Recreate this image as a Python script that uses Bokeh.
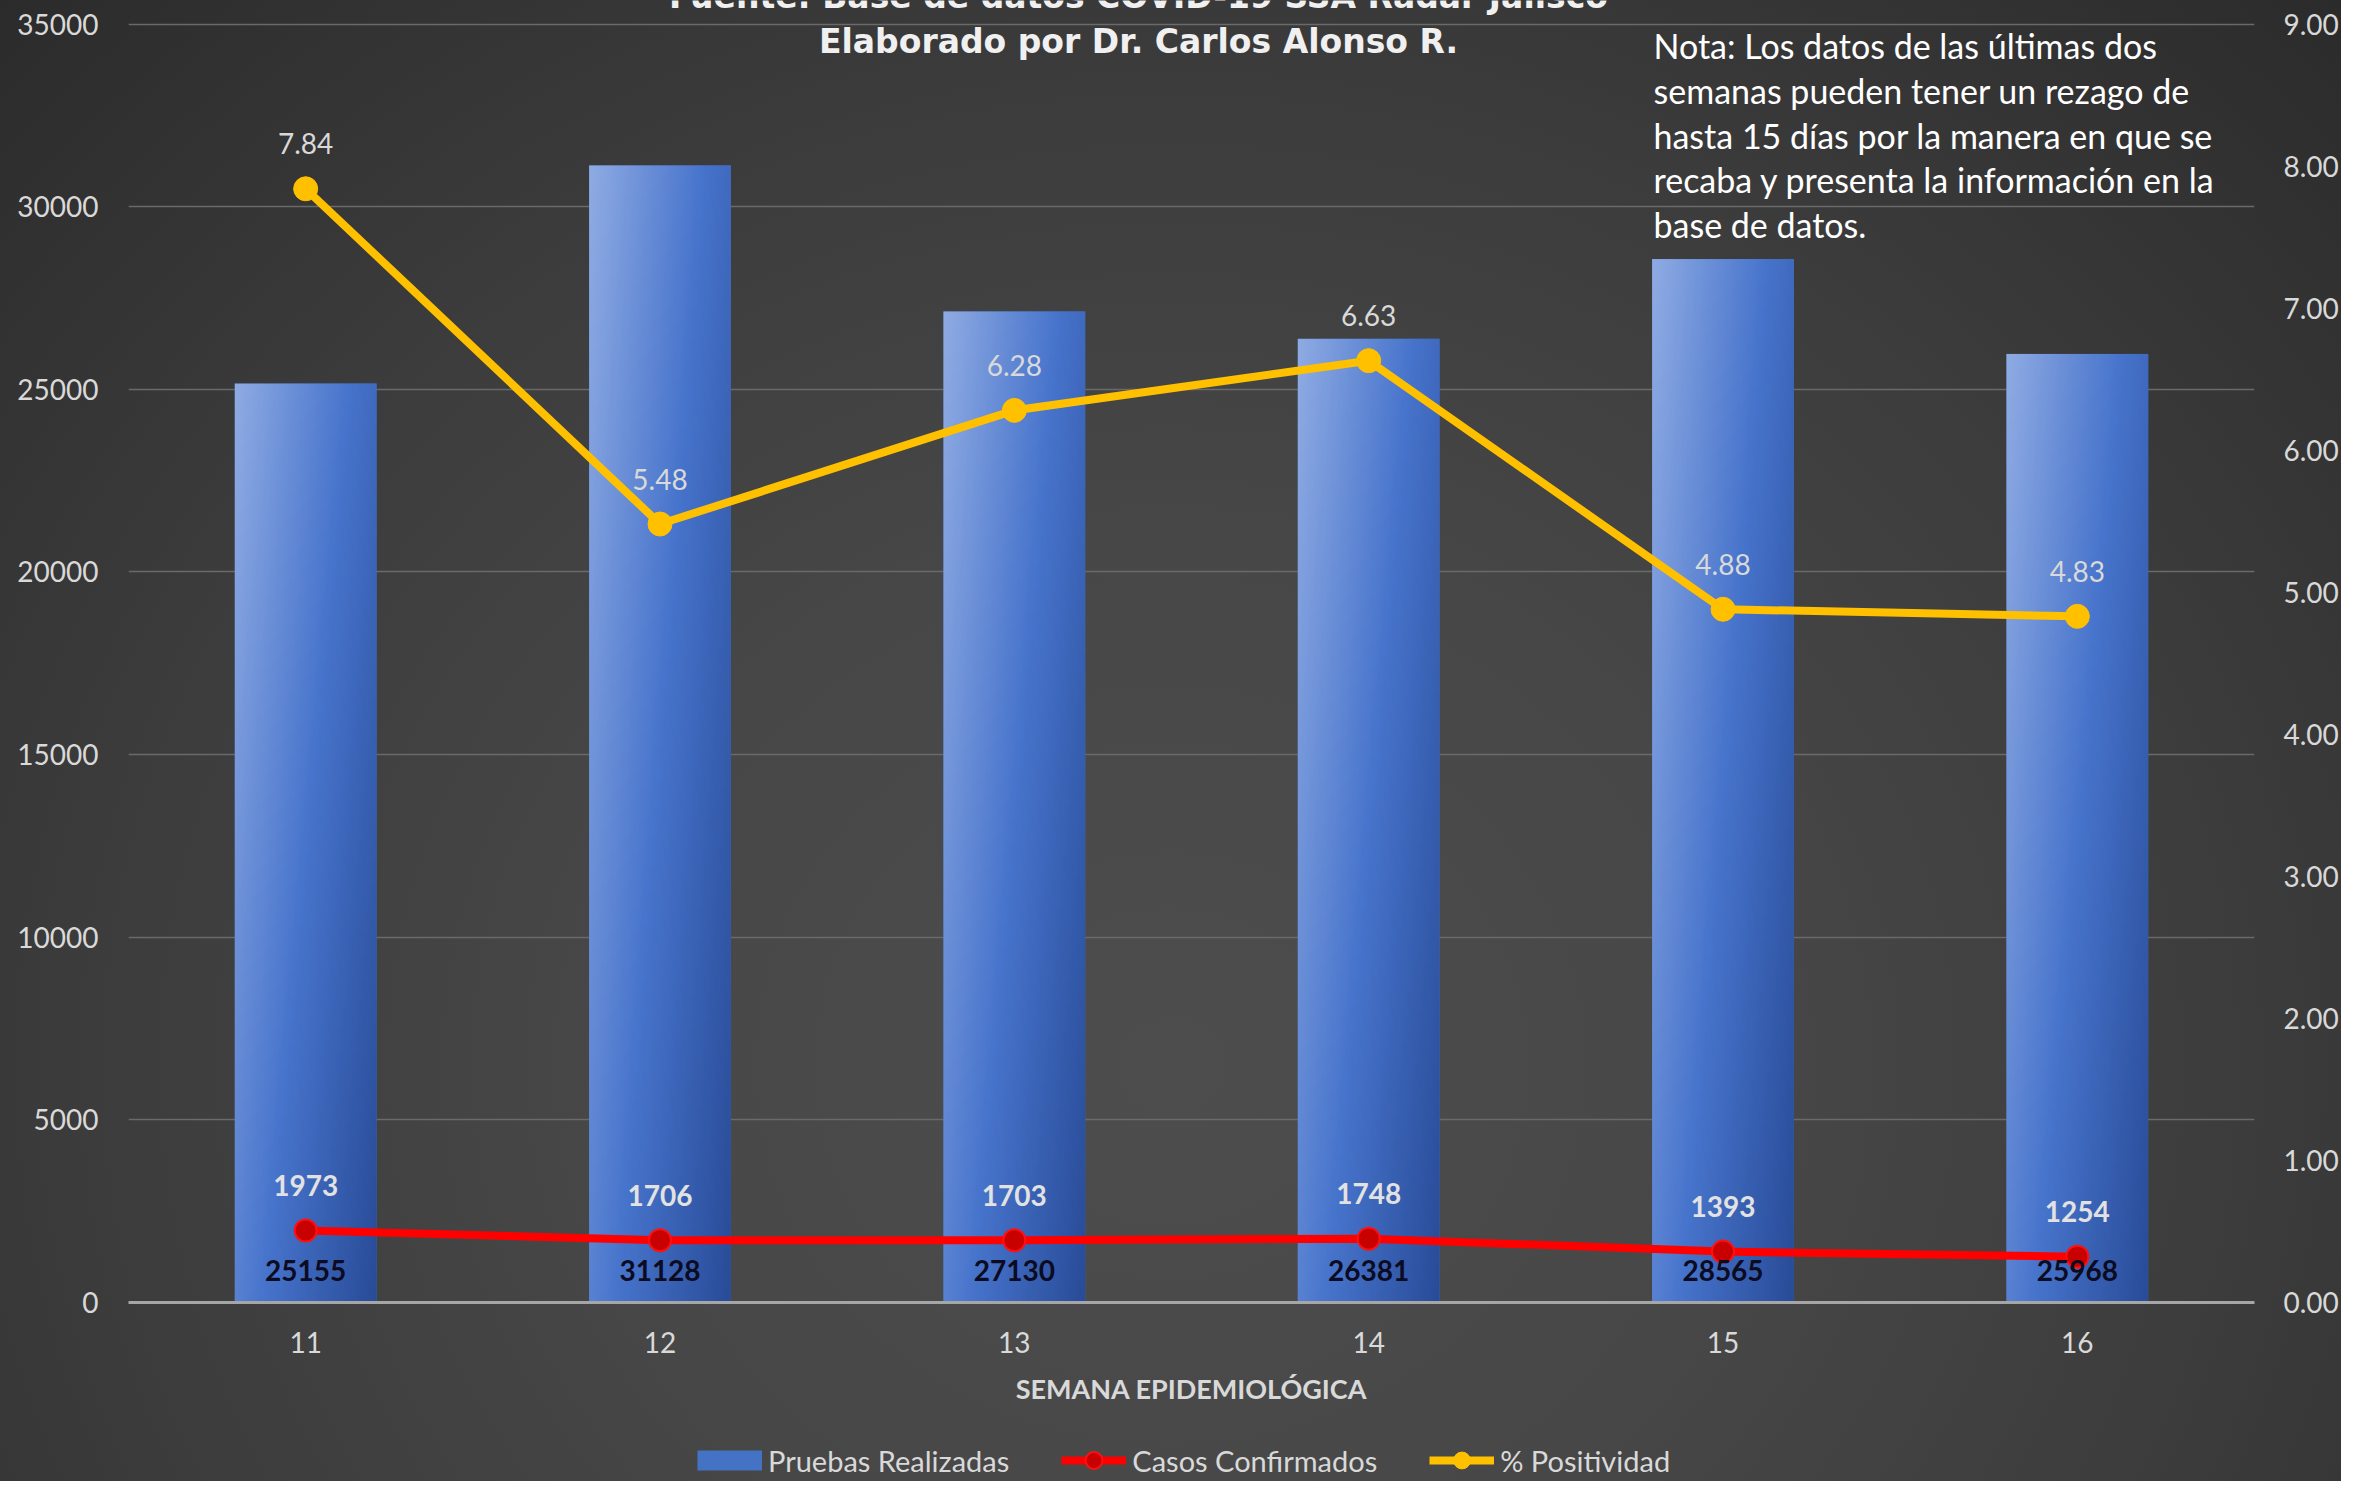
import numpy as np
from bokeh.plotting import figure
from bokeh.layouts import column
from bokeh.models import (ColumnDataSource, Range1d, LinearAxis, Label, Legend, LegendItem,
                          FixedTicker, NumeralTickFormatter, BasicTickFormatter)
from bokeh.core.properties import value
from bokeh.embed import file_html
from bokeh.resources import INLINE

# ---------------- data ----------------
semanas = [11, 12, 13, 14, 15, 16]
pruebas = [25155, 31128, 27130, 26381, 28565, 25968]
casos = [1973, 1706, 1703, 1748, 1393, 1254]
positividad = [7.84, 5.48, 6.28, 6.63, 4.88, 4.83]
left_ticks = [0, 5000, 10000, 15000, 20000, 25000, 30000, 35000]
right_ticks = [0, 1, 2, 3, 4, 5, 6, 7, 8, 9]
titulo_1 = "Fuente: Base de datos COVID-19 SSA Radar Jalisco"
titulo_2 = "Elaborado por Dr. Carlos Alonso R."
nota = ["Nota: Los datos de las últimas dos",
        "semanas pueden tener un rezago de",
        "hasta 15 días  por la manera en que se",
        "recaba y presenta la información en la",
        "base de datos."]
eje_x = "SEMANA EPIDEMIOLÓGICA"
serie_nombres = ["Pruebas Realizadas", "Casos Confirmados", "% Positividad"]

# ---------------- layout constants (canvas pixels) ----------------
WIDTH, HEIGHT = 2341, 1481
LEG_H = 42                          # height of the legend strip under the chart
MAIN_H = HEIGHT - LEG_H
FRAME_L, FRAME_R = 128, 2258
FRAME_B = 1302                      # canvas y of frame bottom (value 0)
TOP_TICK_PX = 23.5                  # canvas y of the 35000 / 9.00 line
left_top = left_ticks[-1] * FRAME_B / (FRAME_B - TOP_TICK_PX)
right_top = right_ticks[-1] * FRAME_B / (FRAME_B - TOP_TICK_PX)

BAR_W = 0.4
src = ColumnDataSource(dict(
    semana=semanas,
    pruebas=pruebas,
    casos=casos,
    pct=positividad,
    bar_left=[s - BAR_W / 2 for s in semanas],
    zero=[0] * len(semanas),
    pruebas_txt=[str(v) for v in pruebas],
    casos_txt=[str(v) for v in casos],
    pct_txt=["%.2f" % v for v in positividad],
))

FONT = "Lato"
GRAY = "#d9d9d9"

p = figure(width=WIDTH, height=MAIN_H,
           x_range=Range1d(10.5, 16.5), y_range=Range1d(0, left_top),
           output_backend="svg", toolbar_location=None,
           min_border_left=FRAME_L, min_border_right=WIDTH - FRAME_R,
           min_border_top=0, min_border_bottom=MAIN_H - FRAME_B,
           background_fill_alpha=0, border_fill_alpha=0,
           outline_line_color=None)
p.extra_y_ranges = {"pct": Range1d(0, right_top)}

# ---------------- axes ----------------
p.xaxis.ticker = FixedTicker(ticks=semanas)
p.yaxis.ticker = FixedTicker(ticks=left_ticks)
p.yaxis.formatter = BasicTickFormatter(use_scientific=False)
right_axis = LinearAxis(y_range_name="pct", ticker=FixedTicker(ticks=right_ticks),
                        formatter=NumeralTickFormatter(format="0.00"))
p.add_layout(right_axis, "right")

for ax in p.axis:
    ax.major_tick_line_color = None
    ax.minor_tick_line_color = None
    ax.major_tick_out = 0
    ax.major_tick_in = 0
    ax.major_label_text_font = FONT
    ax.major_label_text_font_size = "28px"
    ax.major_label_text_color = GRAY
    ax.axis_line_color = None

p.yaxis[0].major_label_standoff = 30
right_axis.major_label_standoff = 29
p.xaxis.axis_line_color = "#a6a6a6"
p.xaxis.axis_line_width = 3
p.xaxis.major_label_standoff = 29
p.xaxis.axis_label = eje_x
p.xaxis.axis_label_text_font = FONT
p.xaxis.axis_label_text_font_style = "bold"
p.xaxis.axis_label_text_font_size = "27px"
p.xaxis.axis_label_text_color = GRAY
p.xaxis.axis_label_standoff = 16

p.xgrid.visible = False
p.ygrid.ticker = FixedTicker(ticks=left_ticks)
p.ygrid.grid_line_color = "#6a6a6a"
p.ygrid.grid_line_width = 1.5

# ---------------- bars (gradient) ----------------
BAR_COLOR = "#4472c4"
p.vbar(x="semana", top="pruebas", width=BAR_W, source=src,
       fill_color=BAR_COLOR, line_color=None)

H, W = 256, 64
u = np.linspace(0, 1, W)[None, :]
v = np.linspace(0, 1, H)[:, None]
t = np.clip(0.62 * u + 0.38 * (1 - v), 0, 1)
stops_t = [0.0, 0.5, 1.0]
stops_c = [(0x8f, 0xab, 0xe3), (0x47, 0x74, 0xcc), (0x29, 0x4c, 0x98)]
img = np.empty((H, W), dtype=np.uint32)
view = img.view(dtype=np.uint8).reshape((H, W, 4))
for ch in range(3):
    view[:, :, ch] = np.interp(t, stops_t, [c[ch] for c in stops_c]).astype(np.uint8)
view[:, :, 3] = 255
src.data["img"] = [img] * len(semanas)
p.image_rgba(image="img", x="bar_left", y="zero", dw=BAR_W, dh="pruebas",
             source=src, level="glyph")

# ---------------- lines ----------------
RED_L = dict(line_color="#ff0000", line_width=8)
RED_M = dict(fill_color="#c80000", line_color="#ff1010", line_width=2)
YEL_L = dict(line_color="#ffc000", line_width=8)
YEL_M = dict(fill_color="#ffc000", line_color="#ffc000")
p.line(x="semana", y="casos", source=src, **RED_L)
p.scatter(x="semana", y="casos", size=22, source=src, **RED_M)
p.line(x="semana", y="pct", y_range_name="pct", source=src, **YEL_L)
p.scatter(x="semana", y="pct", size=24, y_range_name="pct", source=src, **YEL_M)

# ---------------- data labels ----------------
p.text(x="semana", y="zero", text="pruebas_txt", y_offset=-32, source=src,
       text_font=value(FONT), text_font_style="bold", text_font_size="28px",
       text_color="#0b0b22", text_align="center", text_baseline="middle")
p.text(x="semana", y="casos", text="casos_txt", y_offset=-45, source=src,
       text_font=value(FONT), text_font_style="bold", text_font_size="28px",
       text_color="#e2e2e2", text_align="center", text_baseline="middle")
p.text(x="semana", y="pct", text="pct_txt", y_offset=-45, source=src,
       y_range_name="pct",
       text_font=value(FONT), text_font_size="28px",
       text_color=GRAY, text_align="center", text_baseline="middle")

# ---------------- titles / note (screen units from frame bottom-left) ----------------
TITLE_X = 1138
p.add_layout(Label(x=TITLE_X - FRAME_L, y=FRAME_B + 4, x_units="screen", y_units="screen",
                   text=titulo_1, text_align="center", text_baseline="middle",
                   text_font="DejaVu Sans", text_font_style="bold",
                   text_font_size="33px", text_color="#f0f0f0"))
p.add_layout(Label(x=TITLE_X - FRAME_L, y=FRAME_B - 41, x_units="screen", y_units="screen",
                   text=titulo_2, text_align="center", text_baseline="middle",
                   text_font="DejaVu Sans", text_font_style="bold",
                   text_font_size="33px", text_color="#f0f0f0"))

for i, line in enumerate(nota):
    p.add_layout(Label(x=1653 - FRAME_L, y=FRAME_B - 45 - i * 44.8,
                       x_units="screen", y_units="screen",
                       text=line, text_align="left", text_baseline="middle",
                       text_font=FONT, text_font_size="34px", text_color="#ffffff"))

# ---------------- legend strip ----------------
q = figure(width=WIDTH, height=LEG_H, x_range=Range1d(0, 1), y_range=Range1d(0, 1),
           output_backend="svg", toolbar_location=None,
           x_axis_location=None, y_axis_location=None,
           min_border=0, background_fill_alpha=0, border_fill_alpha=0,
           outline_line_color=None)
q.grid.visible = False
off = dict(x=[-10, -9], y=[-10, -10])      # legend-only renderers, outside the view
lg_bar = q.line(**off, line_color=BAR_COLOR, line_width=20)
lg_red = [q.line(**off, **RED_L), q.scatter(**off, **RED_M)]
lg_yel = [q.line(**off, **YEL_L), q.scatter(**off, **YEL_M)]
legend = Legend(items=[LegendItem(label=serie_nombres[0], renderers=[lg_bar]),
                       LegendItem(label=serie_nombres[1], renderers=lg_red),
                       LegendItem(label=serie_nombres[2], renderers=lg_yel)],
                orientation="horizontal", location=(697 - FRAME_L, 0),
                label_text_font=FONT, label_text_font_size="29px",
                label_text_color=GRAY, glyph_width=65, glyph_height=LEG_H,
                label_standoff=6, spacing=52, padding=0, margin=0,
                border_line_color=None, background_fill_alpha=0)
q.add_layout(legend)

layout = column(p, q, spacing=0, styles={
    "background": "radial-gradient(ellipse at 50% 72%, #4d4d4d 0%, #474747 35%, #3c3c3c 65%, #2b2b2b 100%)"})

open("out.html", "w").write(file_html(layout, INLINE))
